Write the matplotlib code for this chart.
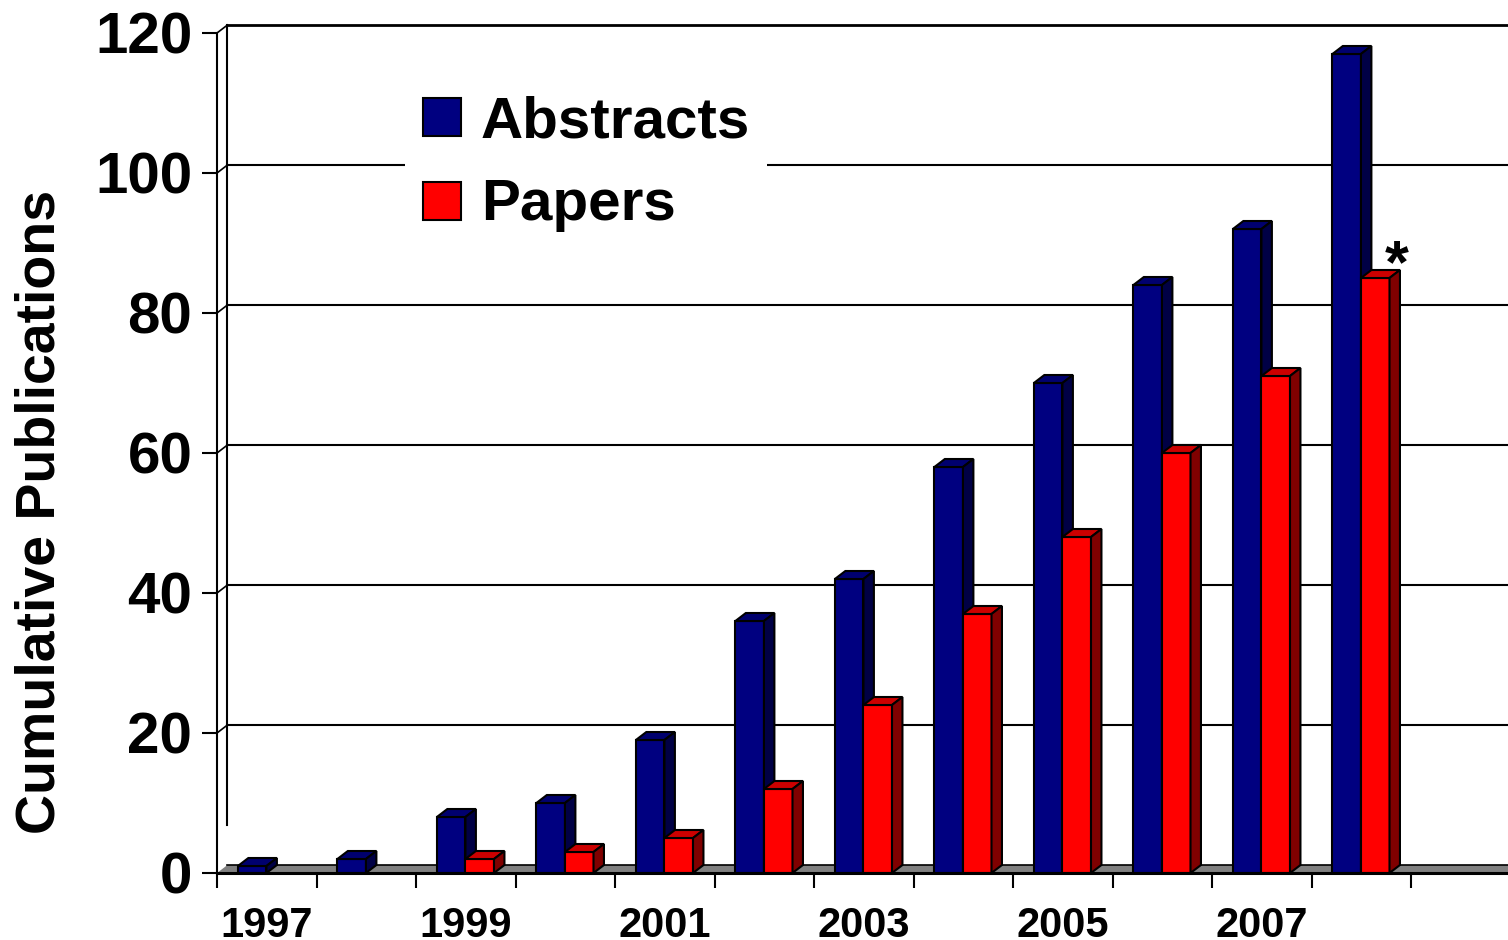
import matplotlib
matplotlib.use("Agg")
import matplotlib.pyplot as plt
from matplotlib.patches import Polygon, Rectangle
import numpy as np

plt.rcParams['font.family'] = ['Liberation Sans', 'DejaVu Sans']
plt.rcParams['font.weight'] = 'bold'

# data
years = [1997, 1998, 1999, 2000, 2001, 2002, 2003, 2004, 2005, 2006, 2007, 2008]
abstracts = [1, 2, 8, 10, 19, 36, 42, 58, 70, 84, 92, 117]
papers = [0, 0, 2, 3, 5, 12, 24, 37, 48, 60, 71, 85]
y_ticks = [0, 20, 40, 60, 80, 100, 120]
x_labels = ['1997', '1999', '2001', '2003', '2005', '2007']

W, H = 1508, 940
fig = plt.figure(figsize=(W / 100, H / 100), dpi=100)
ax = fig.add_axes([217 / W, 67 / H, 1291 / W, 854 / H])
XMAX = 1291 / 99.5
ax.set_xlim(0, XMAX)
ax.set_ylim(0, 122)

DX = 0.105      # depth offset in category units
DY = 8 / 7      # depth offset in value units
BW = 0.287      # bar width
OFF = 0.21      # offset of first bar within category

z = [3]
def draw_bar(x0, h, front, top, side):
    if h <= 0:
        return
    x1 = x0 + BW
    kw = dict(closed=True, ec='black', lw=1.5, joinstyle='miter')
    ax.add_patch(Polygon([(x0, 0), (x1, 0), (x1, h), (x0, h)], fc=front, zorder=z[0], **kw))
    ax.add_patch(Polygon([(x0, h), (x1, h), (x1 + DX, h + DY), (x0 + DX, h + DY)],
                         fc=top, zorder=z[0], **kw))
    ax.add_patch(Polygon([(x1, 0), (x1 + DX, DY), (x1 + DX, h + DY), (x1, h)],
                         fc=side, zorder=z[0], **kw))
    z[0] += 0.01

# floor
ax.add_patch(Polygon([(0, 0), (XMAX + 1, 0), (XMAX + 1 + DX, DY), (DX, DY)],
                     fc='#808080', ec='none', zorder=1))
ax.plot([DX, XMAX], [DY, DY], color='black', lw=1.2, zorder=1.5)

# back wall grid
for v in y_ticks[1:]:
    ax.plot([0, DX], [v, v + DY], color='black', lw=1.2, zorder=2)
    ax.plot([DX, XMAX], [v + DY, v + DY], color='black', lw=1.5 if v < 120 else 2, zorder=2)
ax.plot([DX, DX], [6.86, 120 + DY], color='black', lw=1.5, zorder=2)

for i in range(len(years)):
    draw_bar(i + OFF, abstracts[i], '#000080', '#00006e', '#000045')
    draw_bar(i + OFF + BW, papers[i], '#ff0000', '#cc0000', '#800000')

ax.text(11 + OFF + 2 * BW + DX * 0.5 + 0.02, 90.7, '*', ha='center', va='top',
        fontsize=44, fontweight='bold', zorder=10)

# spines and ticks
for s in ['top', 'right']:
    ax.spines[s].set_visible(False)
ax.spines['left'].set_bounds(0, 120)
ax.spines['left'].set_linewidth(1.5)
ax.spines['bottom'].set_linewidth(2.2)
ax.spines['bottom'].set_zorder(6)

ax.set_yticks(y_ticks)
ax.tick_params(axis='y', length=10.8, width=1.5, pad=7, labelsize=42)
ax.set_xticks(np.arange(13))
ax.set_xticklabels([])
ax.tick_params(axis='x', which='major', length=10.8, width=1.5, direction='out')
ax.set_xticks([i + 0.5 for i in range(0, 12, 2)], labels=x_labels, minor=True)
ax.tick_params(axis='x', which='minor', length=0, pad=24, labelsize=30)
for lab in ax.get_xticklabels(minor=True) + ax.get_yticklabels():
    lab.set_fontweight('bold')

fig.text(41 / W, 1 - 512 / H, 'Cumulative Publications', rotation=90,
         ha='center', va='center', fontsize=40, fontweight='bold')

# legend
ax.add_patch(Rectangle((405 / W, 1 - 235 / H), (767 - 405) / W, (235 - 80) / H,
                       transform=fig.transFigure, fc='white', ec='none', zorder=2.5))
ax.add_patch(Rectangle((423 / W, 1 - 136 / H), 38 / W, 38 / H, transform=fig.transFigure,
                       fc='#000080', ec='black', lw=1.5, zorder=2.6))
ax.add_patch(Rectangle((423 / W, 1 - 220 / H), 38 / W, 38 / H, transform=fig.transFigure,
                       fc='#ff0000', ec='black', lw=1.5, zorder=2.6))
fig.text(481 / W, 1 - 138 / H, 'Abstracts', ha='left', va='baseline', fontsize=42, fontweight='bold')
fig.text(481 / W, 1 - 220 / H, 'Papers', ha='left', va='baseline', fontsize=42, fontweight='bold')

fig.savefig('out.png', dpi=100)
